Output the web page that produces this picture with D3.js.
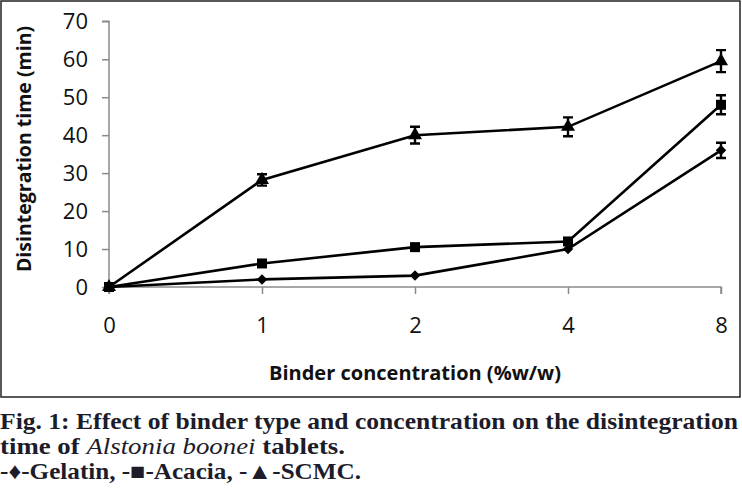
<!DOCTYPE html>
<html>
<head>
<meta charset="utf-8">
<script src="https://cdn.jsdelivr.net/npm/d3@7"></script>
<style>
  body { margin: 0; background: #fff; }
</style>
</head>
<body>
<div class="main"></div>
<script>
// data
const concentrations = ["0", "1", "2", "4", "8"];
const gelatin = [0, 2, 3, 10, 36];
const gelatinErr = [0, 0, 0, 0, 2];
const acacia = [0, 6.2, 10.5, 12, 48];
const acaciaErr = [0, 0, 0, 0, 2.5];
const scmc = [0, 28.2, 40, 42.2, 59.5];
const scmcErr = [0, 1.5, 2.2, 2.5, 2.9];
const yTicks = [0, 10, 20, 30, 40, 50, 60, 70];

const series = [
    { name: "Gelatin", values: gelatin, err: gelatinErr, symbol: d3.symbolDiamond2, size: 70 },
    { name: "SCMC", values: scmc, err: scmcErr, symbol: d3.symbolTriangle, size: 85 },
    { name: "Acacia", values: acacia, err: acaciaErr, symbol: d3.symbolSquare, size: 100 }
];

let width = 742;
let height = 499;

let svg = d3.select(".main")
    .append("svg")
    .attr("width", width)
    .attr("height", height);

// frame round the plot
svg.append("rect")
    .attr("x", 1)
    .attr("y", 1)
    .attr("width", 739)
    .attr("height", 396)
    .attr("fill", "none")
    .attr("stroke", "#222")
    .attr("stroke-width", 1.5);

let x = d3.scalePoint().domain(concentrations).range([109, 721]);
let y = d3.scaleLinear().domain([0, 70]).range([287, 21.3]);

// y axis
let yAxis = svg.append("g")
    .attr("transform", "translate(109,0)")
    .call(d3.axisLeft(y).tickValues(yTicks).tickSize(7).tickPadding(14));
yAxis.selectAll("path, line").attr("stroke", "#8a8a8a").attr("stroke-width", 1.5);
yAxis.select(".domain").attr("d", `M-7,${y(70)}H0V${y(0)}`);
yAxis.selectAll("text")
    .attr("font-family", "Open Sans")
    .attr("font-size", 22)
    .attr("fill", "#111");

// x axis
let xAxis = svg.append("g")
    .attr("transform", `translate(0,${y(0)})`)
    .call(d3.axisBottom(x).tickSize(7).tickPadding(23));
xAxis.selectAll("path, line").attr("stroke", "#8a8a8a").attr("stroke-width", 1.5);
xAxis.select(".domain").attr("d", `M109,7V0H721V7`);
xAxis.selectAll("text")
    .attr("font-family", "Open Sans")
    .attr("font-size", 22)
    .attr("fill", "#111");

// axis titles
svg.append("text")
    .attr("transform", "translate(31,149) rotate(-90)")
    .attr("text-anchor", "middle")
    .attr("font-family", "Open Sans")
    .attr("font-weight", "bold")
    .attr("font-size", 19.5)
    .attr("fill", "#111")
    .text("Disintegration time (min)");

svg.append("text")
    .attr("x", 415)
    .attr("y", 380)
    .attr("text-anchor", "middle")
    .attr("font-family", "Open Sans")
    .attr("font-weight", "bold")
    .attr("font-size", 20)
    .attr("fill", "#111")
    .text("Binder concentration (%w/w)");

let line = d3.line()
    .x((d, i) => x(concentrations[i]))
    .y(d => y(d));

series.forEach(s => {
    let g = svg.append("g").attr("class", "series");

    g.append("path")
        .datum(s.values)
        .attr("d", line)
        .attr("fill", "none")
        .attr("stroke", "#000")
        .attr("stroke-width", 2.6);

    // error bars
    let bars = s.values.map((v, i) => ({ c: concentrations[i], v: v, e: s.err[i] }))
        .filter(d => d.e > 0);
    g.selectAll(".err")
        .data(bars)
        .enter().append("path")
        .attr("class", "err")
        .attr("d", d => {
            let cx = x(d.c), t = y(d.v + d.e), b = y(d.v - d.e);
            return `M${cx - 5},${t}H${cx + 5}M${cx},${t}V${b}M${cx - 5},${b}H${cx + 5}`;
        })
        .attr("fill", "none")
        .attr("stroke", "#000")
        .attr("stroke-width", 2.4);

    g.selectAll(".marker")
        .data(s.values)
        .enter().append("path")
        .attr("class", "marker")
        .attr("transform", (d, i) => `translate(${x(concentrations[i])},${y(d)})`)
        .attr("d", d3.symbol().type(s.symbol).size(s.size))
        .attr("fill", "#000");
});

// caption
let caption = svg.append("g")
    .attr("font-family", "Liberation Serif")
    .attr("font-weight", "bold")
    .attr("font-size", 23)
    .attr("fill", "#1c1c2a");

caption.append("text")
    .attr("x", 0)
    .attr("y", 429)
    .attr("textLength", 738)
    .attr("lengthAdjust", "spacingAndGlyphs")
    .text("Fig. 1: Effect of binder type and concentration on the disintegration");

let line2 = caption.append("text")
    .attr("x", 0)
    .attr("y", 454)
    .attr("textLength", 345)
    .attr("lengthAdjust", "spacingAndGlyphs");
line2.append("tspan").text("time of ");
line2.append("tspan").attr("font-style", "italic").attr("font-weight", "normal").text("Alstonia boonei");
line2.append("tspan").text(" tablets.");

caption.append("text")
    .attr("x", 0)
    .attr("y", 479)
    .attr("textLength", 361)
    .attr("lengthAdjust", "spacingAndGlyphs")
    .text("-♦-Gelatin, -■-Acacia, -▲-SCMC.");
</script>
</body>
</html>
